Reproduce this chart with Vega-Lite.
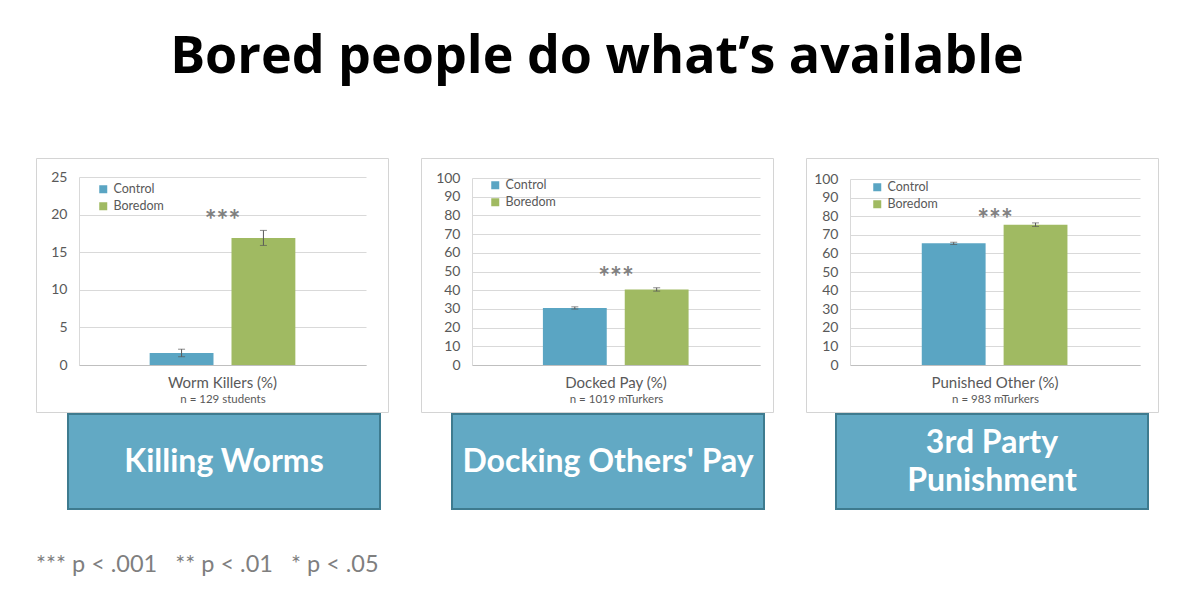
{
  "$schema": "https://vega.github.io/schema/vega-lite/v6.json",
  "background": "white",
  "padding": {"left": 35, "top": 30, "right": 5, "bottom": 5},
  "config": {"font": "Lato", "view": {"stroke": null}},
  "title": {"text": "Bored people do what’s available", "font": "Open Sans", "fontSize": 52, "fontWeight": "bold", "color": "#000000", "anchor": "middle", "offset": 74},
  "spacing": 0,
  "vconcat": [
    {
      "spacing": 31,
      "resolve": {"scale": {"color": "independent"}, "legend": {"color": "independent"}},
      "hconcat": [
        {
          "width": 352, "height": 254,
          "view": {"fill": "white", "stroke": "#d4d4d4", "strokeWidth": 1},
          "data": {"values": [
            {"measure": "Worm Killers (%)", "group": "Control", "value": 1.6, "lo": 1.1, "hi": 2.1},
            {"measure": "Worm Killers (%)", "group": "Boredom", "value": 16.9, "lo": 15.9, "hi": 17.9}
          ]},
          "encoding": {
            "x": {"field": "measure", "type": "nominal", "scale": {"range": [43, 330], "paddingInner": 0, "paddingOuter": 0.485},
              "axis": {"offset": -47, "title": "n = 129 students", "titleFontSize": 11.5, "titleFontWeight": "normal", "titleColor": "#595959", "titlePadding": 3, "labelAngle": 0, "labelFontSize": 15, "labelColor": "#595959", "labelPadding": 10, "ticks": false, "domainColor": "#bfbfbf", "grid": false}}
          },
          "layer": [
            {
              "mark": {"type": "bar"},
              "encoding": {
                "xOffset": {"field": "group", "type": "nominal", "sort": ["Control", "Boredom"], "scale": {"paddingInner": 0.22, "paddingOuter": 0}},
                "y": {"field": "value", "type": "quantitative", "scale": {"domain": [0, 25], "range": [207, 19], "nice": false},
                  "axis": {"offset": -43, "title": null, "values": [0, 5, 10, 15, 20, 25], "labelOverlap": false, "grid": true, "gridColor": "#d9d9d9", "domainColor": "#d9d9d9", "ticks": false, "labelPadding": 12, "labelFontSize": 14, "labelColor": "#595959"}},
                "color": {"field": "group", "type": "nominal", "scale": {"domain": ["Control", "Boredom"], "range": ["#5aa5c3", "#a0ba62"]},
                  "legend": {"orient": "none", "legendX": 61, "legendY": 25, "title": null, "symbolType": "square", "symbolSize": 64, "symbolStrokeWidth": 0, "labelFontSize": 12.5, "labelColor": "#595959", "rowPadding": 4}}
              }
            },
            {
              "mark": {"type": "rule", "color": "#595959", "strokeWidth": 1},
              "encoding": {
                "xOffset": {"field": "group", "type": "nominal", "sort": ["Control", "Boredom"], "scale": {"paddingInner": 0.22, "paddingOuter": 0}},
                "y": {"field": "lo", "type": "quantitative", "axis": {"offset": -43, "title": null, "values": [0, 5, 10, 15, 20, 25], "labelOverlap": false, "grid": true, "gridColor": "#d9d9d9", "domainColor": "#d9d9d9", "ticks": false, "labelPadding": 12, "labelFontSize": 14, "labelColor": "#595959"}},
                "y2": {"field": "hi"}
              }
            },
            {
              "mark": {"type": "tick", "color": "#595959", "size": 7, "thickness": 1},
              "encoding": {
                "xOffset": {"field": "group", "type": "nominal", "sort": ["Control", "Boredom"], "scale": {"paddingInner": 0.22, "paddingOuter": 0}},
                "y": {"field": "lo", "type": "quantitative", "axis": {"offset": -43, "title": null, "values": [0, 5, 10, 15, 20, 25], "labelOverlap": false, "grid": true, "gridColor": "#d9d9d9", "domainColor": "#d9d9d9", "ticks": false, "labelPadding": 12, "labelFontSize": 14, "labelColor": "#595959"}}
              }
            },
            {
              "mark": {"type": "tick", "color": "#595959", "size": 7, "thickness": 1},
              "encoding": {
                "xOffset": {"field": "group", "type": "nominal", "sort": ["Control", "Boredom"], "scale": {"paddingInner": 0.22, "paddingOuter": 0}},
                "y": {"field": "hi", "type": "quantitative", "axis": {"offset": -43, "title": null, "values": [0, 5, 10, 15, 20, 25], "labelOverlap": false, "grid": true, "gridColor": "#d9d9d9", "domainColor": "#d9d9d9", "ticks": false, "labelPadding": 12, "labelFontSize": 14, "labelColor": "#595959"}}
              }
            },
            {
              "data": {"values": [{"measure": "Worm Killers (%)", "sig": "***", "pos": 19.9}]},
              "mark": {"type": "text", "fontSize": 28, "fontWeight": "bold", "color": "#808080", "baseline": "middle", "dy": 7},
              "encoding": {
                "y": {"field": "pos", "type": "quantitative", "axis": {"offset": -43, "title": null, "values": [0, 5, 10, 15, 20, 25], "labelOverlap": false, "grid": true, "gridColor": "#d9d9d9", "domainColor": "#d9d9d9", "ticks": false, "labelPadding": 12, "labelFontSize": 14, "labelColor": "#595959"}},
                "text": {"field": "sig", "type": "nominal"}
              }
            }
          ]
        },
        {
          "width": 352, "height": 254,
          "view": {"fill": "white", "stroke": "#d4d4d4", "strokeWidth": 1},
          "data": {"values": [
            {"measure": "Docked Pay (%)", "group": "Control", "value": 30.5, "lo": 29.9, "hi": 31.1},
            {"measure": "Docked Pay (%)", "group": "Boredom", "value": 40.4, "lo": 39.5, "hi": 41.3}
          ]},
          "encoding": {
            "x": {"field": "measure", "type": "nominal", "scale": {"range": [51, 339], "paddingInner": 0, "paddingOuter": 0.485},
              "axis": {"offset": -47, "title": "n = 1019 mTurkers", "titleFontSize": 11.5, "titleFontWeight": "normal", "titleColor": "#595959", "titlePadding": 3, "labelAngle": 0, "labelFontSize": 15, "labelColor": "#595959", "labelPadding": 10, "ticks": false, "domainColor": "#bfbfbf", "grid": false}}
          },
          "layer": [
            {
              "mark": {"type": "bar"},
              "encoding": {
                "xOffset": {"field": "group", "type": "nominal", "sort": ["Control", "Boredom"], "scale": {"paddingInner": 0.22, "paddingOuter": 0}},
                "y": {"field": "value", "type": "quantitative", "scale": {"domain": [0, 100], "range": [207, 20], "nice": false},
                  "axis": {"offset": -51, "title": null, "values": [0, 10, 20, 30, 40, 50, 60, 70, 80, 90, 100], "labelOverlap": false, "grid": true, "gridColor": "#d9d9d9", "domainColor": "#d9d9d9", "ticks": false, "labelPadding": 12, "labelFontSize": 14, "labelColor": "#595959"}},
                "color": {"field": "group", "type": "nominal", "scale": {"domain": ["Control", "Boredom"], "range": ["#5aa5c3", "#a0ba62"]},
                  "legend": {"orient": "none", "legendX": 68, "legendY": 21, "title": null, "symbolType": "square", "symbolSize": 64, "symbolStrokeWidth": 0, "labelFontSize": 12.5, "labelColor": "#595959", "rowPadding": 4}}
              }
            },
            {
              "mark": {"type": "rule", "color": "#595959", "strokeWidth": 1},
              "encoding": {
                "xOffset": {"field": "group", "type": "nominal", "sort": ["Control", "Boredom"], "scale": {"paddingInner": 0.22, "paddingOuter": 0}},
                "y": {"field": "lo", "type": "quantitative", "axis": {"offset": -51, "title": null, "values": [0, 10, 20, 30, 40, 50, 60, 70, 80, 90, 100], "labelOverlap": false, "grid": true, "gridColor": "#d9d9d9", "domainColor": "#d9d9d9", "ticks": false, "labelPadding": 12, "labelFontSize": 14, "labelColor": "#595959"}},
                "y2": {"field": "hi"}
              }
            },
            {
              "mark": {"type": "tick", "color": "#595959", "size": 7, "thickness": 1},
              "encoding": {
                "xOffset": {"field": "group", "type": "nominal", "sort": ["Control", "Boredom"], "scale": {"paddingInner": 0.22, "paddingOuter": 0}},
                "y": {"field": "lo", "type": "quantitative", "axis": {"offset": -51, "title": null, "values": [0, 10, 20, 30, 40, 50, 60, 70, 80, 90, 100], "labelOverlap": false, "grid": true, "gridColor": "#d9d9d9", "domainColor": "#d9d9d9", "ticks": false, "labelPadding": 12, "labelFontSize": 14, "labelColor": "#595959"}}
              }
            },
            {
              "mark": {"type": "tick", "color": "#595959", "size": 7, "thickness": 1},
              "encoding": {
                "xOffset": {"field": "group", "type": "nominal", "sort": ["Control", "Boredom"], "scale": {"paddingInner": 0.22, "paddingOuter": 0}},
                "y": {"field": "hi", "type": "quantitative", "axis": {"offset": -51, "title": null, "values": [0, 10, 20, 30, 40, 50, 60, 70, 80, 90, 100], "labelOverlap": false, "grid": true, "gridColor": "#d9d9d9", "domainColor": "#d9d9d9", "ticks": false, "labelPadding": 12, "labelFontSize": 14, "labelColor": "#595959"}}
              }
            },
            {
              "data": {"values": [{"measure": "Docked Pay (%)", "sig": "***", "pos": 49.9}]},
              "mark": {"type": "text", "fontSize": 28, "fontWeight": "bold", "color": "#808080", "baseline": "middle", "dy": 7},
              "encoding": {
                "y": {"field": "pos", "type": "quantitative", "axis": {"offset": -51, "title": null, "values": [0, 10, 20, 30, 40, 50, 60, 70, 80, 90, 100], "labelOverlap": false, "grid": true, "gridColor": "#d9d9d9", "domainColor": "#d9d9d9", "ticks": false, "labelPadding": 12, "labelFontSize": 14, "labelColor": "#595959"}},
                "text": {"field": "sig", "type": "nominal"}
              }
            }
          ]
        },
        {
          "width": 352, "height": 254,
          "view": {"fill": "white", "stroke": "#d4d4d4", "strokeWidth": 1},
          "data": {"values": [
            {"measure": "Punished Other (%)", "group": "Control", "value": 65.4, "lo": 64.8, "hi": 66.0},
            {"measure": "Punished Other (%)", "group": "Boredom", "value": 75.4, "lo": 74.5, "hi": 76.4}
          ]},
          "encoding": {
            "x": {"field": "measure", "type": "nominal", "scale": {"range": [44, 334], "paddingInner": 0, "paddingOuter": 0.49},
              "axis": {"offset": -47, "title": "n = 983 mTurkers", "titleFontSize": 11.5, "titleFontWeight": "normal", "titleColor": "#595959", "titlePadding": 3, "labelAngle": 0, "labelFontSize": 15, "labelColor": "#595959", "labelPadding": 10, "ticks": false, "domainColor": "#bfbfbf", "grid": false}}
          },
          "layer": [
            {
              "mark": {"type": "bar"},
              "encoding": {
                "xOffset": {"field": "group", "type": "nominal", "sort": ["Control", "Boredom"], "scale": {"paddingInner": 0.22, "paddingOuter": 0}},
                "y": {"field": "value", "type": "quantitative", "scale": {"domain": [0, 100], "range": [207, 21], "nice": false},
                  "axis": {"offset": -44, "title": null, "values": [0, 10, 20, 30, 40, 50, 60, 70, 80, 90, 100], "labelOverlap": false, "grid": true, "gridColor": "#d9d9d9", "domainColor": "#d9d9d9", "ticks": false, "labelPadding": 12, "labelFontSize": 14, "labelColor": "#595959"}},
                "color": {"field": "group", "type": "nominal", "scale": {"domain": ["Control", "Boredom"], "range": ["#5aa5c3", "#a0ba62"]},
                  "legend": {"orient": "none", "legendX": 65, "legendY": 23, "title": null, "symbolType": "square", "symbolSize": 64, "symbolStrokeWidth": 0, "labelFontSize": 12.5, "labelColor": "#595959", "rowPadding": 4}}
              }
            },
            {
              "mark": {"type": "rule", "color": "#595959", "strokeWidth": 1},
              "encoding": {
                "xOffset": {"field": "group", "type": "nominal", "sort": ["Control", "Boredom"], "scale": {"paddingInner": 0.22, "paddingOuter": 0}},
                "y": {"field": "lo", "type": "quantitative", "axis": {"offset": -44, "title": null, "values": [0, 10, 20, 30, 40, 50, 60, 70, 80, 90, 100], "labelOverlap": false, "grid": true, "gridColor": "#d9d9d9", "domainColor": "#d9d9d9", "ticks": false, "labelPadding": 12, "labelFontSize": 14, "labelColor": "#595959"}},
                "y2": {"field": "hi"}
              }
            },
            {
              "mark": {"type": "tick", "color": "#595959", "size": 7, "thickness": 1},
              "encoding": {
                "xOffset": {"field": "group", "type": "nominal", "sort": ["Control", "Boredom"], "scale": {"paddingInner": 0.22, "paddingOuter": 0}},
                "y": {"field": "lo", "type": "quantitative", "axis": {"offset": -44, "title": null, "values": [0, 10, 20, 30, 40, 50, 60, 70, 80, 90, 100], "labelOverlap": false, "grid": true, "gridColor": "#d9d9d9", "domainColor": "#d9d9d9", "ticks": false, "labelPadding": 12, "labelFontSize": 14, "labelColor": "#595959"}}
              }
            },
            {
              "mark": {"type": "tick", "color": "#595959", "size": 7, "thickness": 1},
              "encoding": {
                "xOffset": {"field": "group", "type": "nominal", "sort": ["Control", "Boredom"], "scale": {"paddingInner": 0.22, "paddingOuter": 0}},
                "y": {"field": "hi", "type": "quantitative", "axis": {"offset": -44, "title": null, "values": [0, 10, 20, 30, 40, 50, 60, 70, 80, 90, 100], "labelOverlap": false, "grid": true, "gridColor": "#d9d9d9", "domainColor": "#d9d9d9", "ticks": false, "labelPadding": 12, "labelFontSize": 14, "labelColor": "#595959"}}
              }
            },
            {
              "data": {"values": [{"measure": "Punished Other (%)", "sig": "***", "pos": 81.3}]},
              "mark": {"type": "text", "fontSize": 28, "fontWeight": "bold", "color": "#808080", "baseline": "middle", "dy": 7},
              "encoding": {
                "y": {"field": "pos", "type": "quantitative", "axis": {"offset": -44, "title": null, "values": [0, 10, 20, 30, 40, 50, 60, 70, 80, 90, 100], "labelOverlap": false, "grid": true, "gridColor": "#d9d9d9", "domainColor": "#d9d9d9", "ticks": false, "labelPadding": 12, "labelFontSize": 14, "labelColor": "#595959"}},
                "text": {"field": "sig", "type": "nominal"}
              }
            }
          ]
        }
      ]
    },
    {
      "spacing": 0,
      "title": {"text": "*** p < .001\u00a0\u00a0\u00a0** p < .01\u00a0\u00a0\u00a0* p < .05", "orient": "bottom", "anchor": "start", "font": "Lato", "fontSize": 23.5, "fontWeight": "normal", "color": "#7f7f7f", "offset": 43},
      "hconcat": [
        {
          "width": 31, "height": 95,
          "view": {"stroke": null},
          "data": {"values": [{"label": ""}]},
          "mark": {"type": "text"},
          "encoding": {"text": {"field": "label", "type": "nominal"}}
        },
        {
          "spacing": 70,
          "hconcat": [
            {
              "width": 312, "height": 95,
              "view": {"fill": "#62a9c4", "stroke": "#3e7b8f", "strokeWidth": 2},
              "data": {"values": [{"label": "Killing Worms"}]},
              "mark": {"type": "text", "font": "Lato", "fontWeight": "bold", "fontSize": 32, "color": "white", "baseline": "middle", "lineBreak": "\n", "lineHeight": 38},
              "encoding": {"text": {"field": "label", "type": "nominal"}}
            },
            {
              "width": 312, "height": 95,
              "view": {"fill": "#62a9c4", "stroke": "#3e7b8f", "strokeWidth": 2},
              "data": {"values": [{"label": "Docking Others' Pay"}]},
              "mark": {"type": "text", "font": "Lato", "fontWeight": "bold", "fontSize": 32, "color": "white", "baseline": "middle", "lineBreak": "\n", "lineHeight": 38},
              "encoding": {"text": {"field": "label", "type": "nominal"}}
            },
            {
              "width": 312, "height": 95,
              "view": {"fill": "#62a9c4", "stroke": "#3e7b8f", "strokeWidth": 2},
              "data": {"values": [{"label": "3rd Party\nPunishment"}]},
              "mark": {"type": "text", "font": "Lato", "fontWeight": "bold", "fontSize": 32, "color": "white", "baseline": "middle", "lineBreak": "\n", "lineHeight": 38, "dy": -19},
              "encoding": {"text": {"field": "label", "type": "nominal"}}
            }
          ]
        }
      ]
    }
  ]
}
